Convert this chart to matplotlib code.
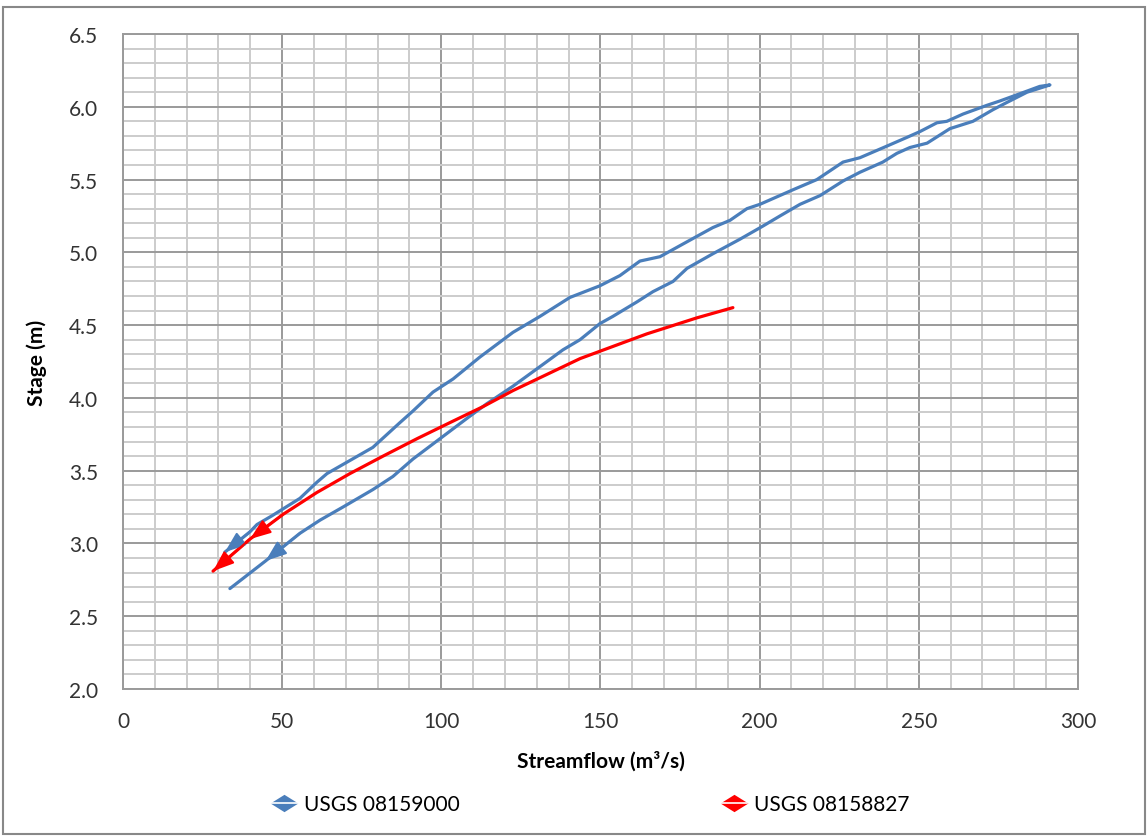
"""Stage vs streamflow loop rating for two USGS gauges -> out.png"""

import matplotlib

matplotlib.use("Agg")
import matplotlib.pyplot as plt
from matplotlib.legend_handler import HandlerTuple
from matplotlib.lines import Line2D
from matplotlib.patches import ArrowStyle, Rectangle
from matplotlib.ticker import MultipleLocator

# USGS 08159000: rising limb then falling limb (one continuous series)
blue_q = [33.6, 44.8, 55.6, 61.9, 69.1, 78.5, 84.8, 91.1, 99.6, 108.1, 114.3,
          122.5, 133.2, 138.2, 143.6, 149.8, 153.9, 161.5, 166.5, 172.8, 177.2,
          185.3, 193.8, 201.0, 206.4, 212.7, 219.0, 226.2, 231.5, 238.7, 243.1,
          247.2, 252.6, 259.8, 267.0, 273.3, 277.7, 284.0, 291.2,
          288.0, 281.8, 275.5, 271.4, 263.9, 258.8, 255.7, 250.4, 246.3, 240.0,
          231.5, 226.2, 218.0, 210.5, 200.1, 196.0, 190.7, 185.3, 180.3, 168.7,
          162.4, 156.1, 149.8, 140.4, 131.0, 122.5, 112.1, 103.7, 97.4, 91.1,
          87.0, 78.5, 71.3, 64.1, 60.9, 55.6, 46.8, 42.1, 39.9, 32.0]
blue_stage = [2.69, 2.88, 3.07, 3.16, 3.25, 3.37, 3.46, 3.58, 3.72, 3.86, 3.96,
              4.08, 4.25, 4.33, 4.40, 4.51, 4.56, 4.66, 4.73, 4.80, 4.89,
              4.99, 5.09, 5.18, 5.25, 5.33, 5.39, 5.49, 5.55, 5.62, 5.68,
              5.72, 5.75, 5.85, 5.90, 5.98, 6.03, 6.10, 6.15,
              6.14, 6.09, 6.04, 6.01, 5.95, 5.90, 5.89, 5.83, 5.79, 5.73,
              5.65, 5.62, 5.50, 5.43, 5.33, 5.30, 5.22, 5.17, 5.11, 4.97,
              4.94, 4.84, 4.77, 4.69, 4.56, 4.45, 4.28, 4.13, 4.04, 3.91,
              3.83, 3.66, 3.57, 3.48, 3.42, 3.31, 3.19, 3.13, 3.08, 2.94]

# USGS 08158827
red_q = [28.3, 39.9, 50.3, 60.9, 71.3, 81.7, 92.4, 102.7, 113.1, 122.5,
         143.6, 164.6, 180.3, 191.6]
red_stage = [2.81, 3.03, 3.20, 3.35, 3.48, 3.60, 3.72, 3.83, 3.94, 4.05,
             4.27, 4.44, 4.55, 4.62]

labels = ["USGS 08159000", "USGS 08158827"]
BLUE = "#4a7ebb"
RED = "#ff0000"

plt.rcParams["font.family"] = ["Lato", "DejaVu Sans"]

fig = plt.figure(figsize=(11.48, 8.37), dpi=100)
ax = fig.add_axes([0.1071, 0.1756, 0.8319, 0.7826])

ax.plot(blue_q, blue_stage, color=BLUE, lw=2.3, solid_capstyle="round", zorder=3)
ax.plot(red_q, red_stage, color=RED, lw=2.3, solid_capstyle="round", zorder=4)

head = ArrowStyle("-|>", head_length=0.8, head_width=0.3)


def arrow(x, y, i_tip, i_from, color):
    ax.annotate("", xy=(x[i_tip], y[i_tip]), xytext=(x[i_from], y[i_from]),
                arrowprops=dict(arrowstyle=head, color=color, lw=1.5,
                                mutation_scale=16, shrinkA=0, shrinkB=0),
                zorder=5)


arrow(blue_q, blue_stage, 1, 2, BLUE)
arrow(blue_q, blue_stage, -1, -2, BLUE)
arrow(red_q, red_stage, 0, 1, RED)
arrow(red_q, red_stage, 1, 2, RED)

ax.set_xlim(0, 300)
ax.set_ylim(2.0, 6.5)
ax.xaxis.set_major_locator(MultipleLocator(50))
ax.xaxis.set_minor_locator(MultipleLocator(10))
ax.yaxis.set_major_locator(MultipleLocator(0.5))
ax.yaxis.set_minor_locator(MultipleLocator(0.1))
ax.yaxis.set_major_formatter(lambda v, p: f"{v:.1f}")
ax.grid(which="minor", color="#cccccc", lw=1.4)
ax.grid(which="major", color="#9a9a9a", lw=1.4)
ax.set_axisbelow(True)
ax.tick_params(which="both", length=0, labelsize=15, colors="#333333")
ax.tick_params(axis="x", pad=16)
ax.tick_params(axis="y", pad=18)
for s in ax.spines.values():
    s.set_color("#9a9a9a")
    s.set_linewidth(1.4)

ax.set_xlabel("Streamflow (m³/s)", fontsize=15, fontweight="bold", labelpad=14)
ax.set_ylabel("Stage (m)", fontsize=15, fontweight="bold", labelpad=16)

diamond = [(-1.6, 0), (0, 1), (1.6, 0), (0, -1), (-1.6, 0)]
handles = []
for c in (BLUE, RED):
    mk = Line2D([], [], ls="none", marker=diamond, ms=20, color=c, mew=0)
    ln = Line2D([], [], color="white", lw=1.2)
    handles.append((mk, ln))
fig.legend(handles, labels, handler_map={tuple: HandlerTuple(ndivide=1)},
           loc="center", bbox_to_anchor=(0.514, 0.038), ncol=2, frameon=False,
           fontsize=15, handlelength=1.3, handletextpad=0.3, columnspacing=12.5)

fig.patches.append(Rectangle((0.0026, 0.002), 0.995, 0.988, transform=fig.transFigure,
                             fill=False, edgecolor="#888888", lw=1.5))

fig.savefig("out.png", dpi=100)
